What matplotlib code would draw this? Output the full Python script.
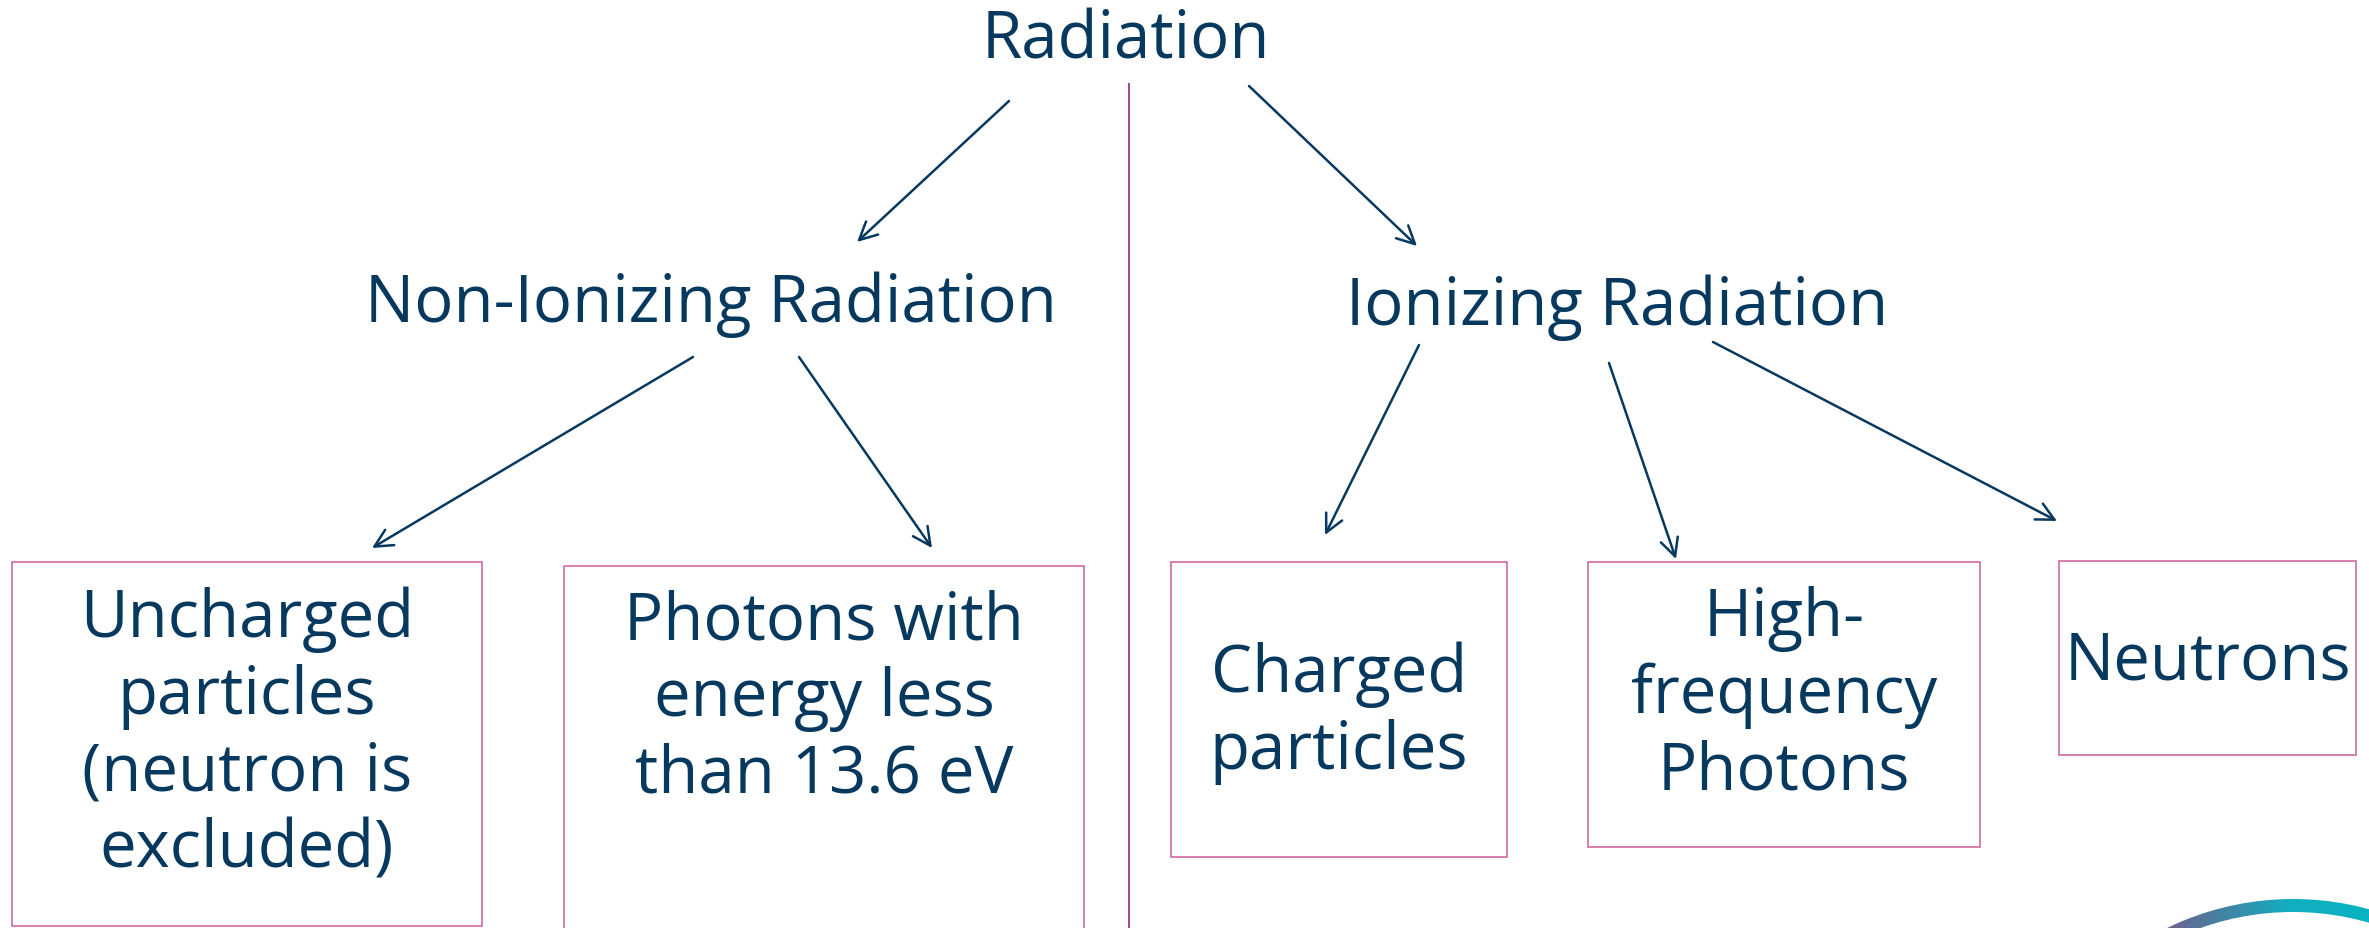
import numpy as np
import matplotlib
matplotlib.use("Agg")
import matplotlib.pyplot as plt
from matplotlib.patches import Rectangle, Wedge
from matplotlib.colors import LinearSegmentedColormap

# ---- content ----
root_label = "Radiation"
branch_labels = ["Non-Ionizing Radiation", "Ionizing Radiation"]
leaf_labels = [
    ["Uncharged", "particles", "(neutron is", "excluded)"],
    ["Photons with", "energy less", "than 13.6 eV"],
    ["Charged", "particles"],
    ["High-", "frequency", "Photons"],
    ["Neutrons"],
]
leaf_parent = [0, 0, 1, 1, 1]

# ---- layout (pixel coordinates, y downward) ----
W, H = 2369, 929
root_pos = (1126, 58)                       # centre x, baseline y
branch_pos = [(711, 322), (1617, 325)]
leaf_boxes = [  # x0, y0, x1, y1
    (12, 563, 482, 927),
    (564, 567, 1084, 940),
    (1171, 563, 1507, 858),
    (1588, 563, 1980, 848),
    (2059, 562, 2356, 756),
]
leaf_first_baseline = [637, 639, 692, 636, 679]
line_step = 77
root_arrows = [((1009, 102), (857, 243)), ((1249, 87), (1417, 247))]
leaf_arrows = [
    ((693, 358), (372, 549)),
    ((799, 358), (932, 549)),
    ((1419, 346), (1325, 536)),
    ((1609, 364), (1676, 560)),
    ((1713, 343), (2057, 522)),
]
divider = (1129, 84, 940)

NAVY = "#07395F"
PINK = "#CC5C9A"
DIV = "#9E4E8A"
FONT = ["Open Sans", "DejaVu Sans"]
FS = 47

fig = plt.figure(figsize=(W / 100, H / 100), dpi=100)
ax = fig.add_axes([0, 0, 1, 1])
ax.set_xlim(0, W)
ax.set_ylim(H, 0)
ax.axis("off")

# divider line
ax.plot([divider[0], divider[0]], [divider[1], divider[2]], color=DIV, lw=1.5,
        solid_capstyle="butt")

# texts
ax.text(root_pos[0], root_pos[1], root_label, ha="center", va="baseline",
        fontsize=FS, color=NAVY, family=FONT)
for (x, y), lab in zip(branch_pos, branch_labels):
    ax.text(x, y, lab, ha="center", va="baseline", fontsize=FS, color=NAVY, family=FONT)

# boxes + leaf texts
for box, lines, b0 in zip(leaf_boxes, leaf_labels, leaf_first_baseline):
    x0, y0, x1, y1 = box
    ax.add_patch(Rectangle((x0, y0), x1 - x0, y1 - y0, fill=False, edgecolor=PINK,
                           lw=1.1, clip_on=True))
    cx = (x0 + x1) / 2
    for i, ln in enumerate(lines):
        ax.text(cx, b0 + i * line_step, ln, ha="center", va="baseline",
                fontsize=FS, color=NAVY, family=FONT)

# arrows
def arrow(p0, p1):
    ax.annotate("", xy=p1, xytext=p0,
                arrowprops=dict(arrowstyle="->", color=NAVY, lw=1.8,
                                mutation_scale=32, shrinkA=0, shrinkB=0))

for p0, p1 in root_arrows + leaf_arrows:
    arrow(p0, p1)

# decorative gradient ring in bottom-right corner
cx_r, cy_r, r_out, width = 2293, 1188, 288, 13
ring = Wedge((cx_r, cy_r), r_out, 0, 360, width=width, transform=ax.transData,
             facecolor="none", edgecolor="none")
ax.add_patch(ring)
cmap = LinearSegmentedColormap.from_list("g", ["#8A4F86", "#4E7A9C", "#12AEC0", "#0AB3C2"])
grad = np.linspace(0, 1, 256).reshape(1, -1)
im = ax.imshow(grad, extent=[2130, 2369, 929, 880], cmap=cmap, aspect="auto",
               interpolation="bilinear", zorder=1)
im.set_clip_path(ring)
ax.set_xlim(0, W)
ax.set_ylim(H, 0)

fig.savefig("out.png", dpi=100, facecolor="white")
